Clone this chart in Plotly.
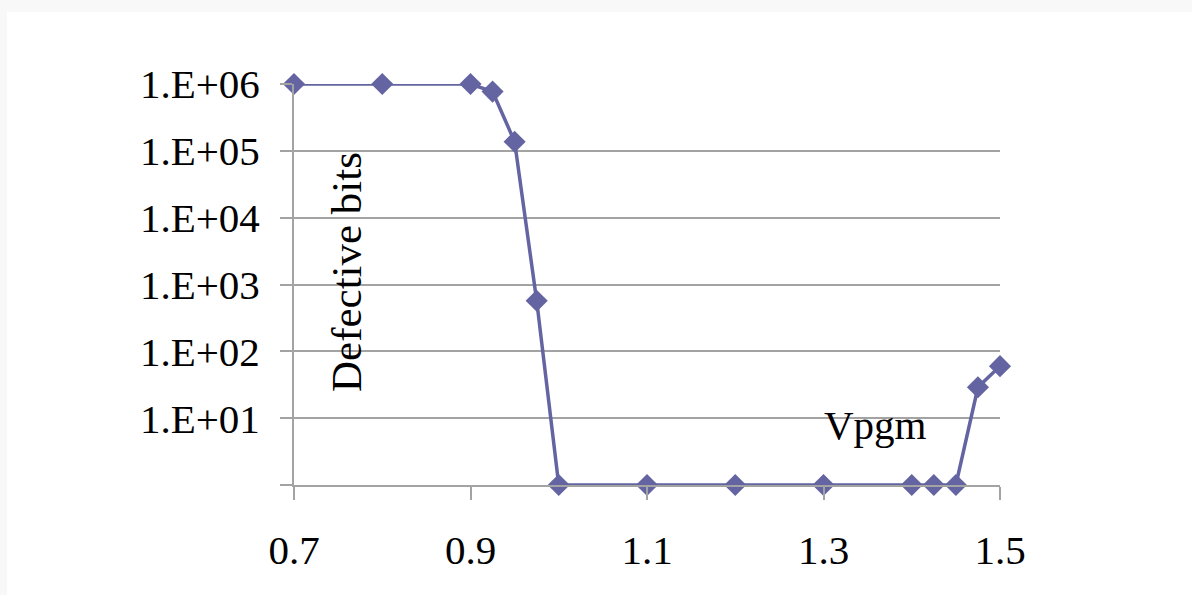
import plotly.graph_objects as go

vpgm = [0.7, 0.8, 0.9, 0.925, 0.95, 0.975, 1.0, 1.1, 1.2, 1.3, 1.4, 1.425, 1.45, 1.475, 1.5]
defective_bits = [1e6, 1e6, 1e6, 7.7e5, 1.37e5, 570, 1, 1, 1, 1, 1, 1, 1, 29, 60]

y_tickvals = [1, 10, 100, 1000, 10000, 100000, 1000000]
y_ticktext = ["", "1.E+01", "1.E+02", "1.E+03", "1.E+04", "1.E+05", "1.E+06"]
x_tickvals = [0.7, 0.9, 1.1, 1.3, 1.5]
x_ticktext = ["0.7", "0.9", "1.1", "1.3", "1.5"]

OFF = 8  # page offset of the figure
W, H = 1192, 595
L, T = 294 - OFF, 84 - OFF
pw, ph = 706, 401
R, B = W - L - pw, H - T - ph

def px_x(p):
    return (p - OFF - L) / pw

def px_y(p):
    return (H - B - (p - OFF)) / ph

line_color = "#6464a2"
grid_color = "#a3a3a3"
font_family = "Liberation Serif, Times New Roman, serif"

fig = go.Figure()
fig.add_trace(go.Scatter(
    x=vpgm, y=defective_bits, mode="lines+markers",
    line=dict(color=line_color, width=3.5),
    marker=dict(symbol="diamond", size=17, color=line_color),
    cliponaxis=False, showlegend=False,
))

fig.update_layout(
    width=W, height=H,
    margin=dict(l=L, r=R, t=T, b=B, pad=0),
    paper_bgcolor="#f8f8f8",
    plot_bgcolor="white",
    font=dict(family=font_family, size=40, color="black"),
    shapes=[dict(type="rect", xref="paper", yref="paper",
                 x0=px_x(7), x1=px_x(W + 30), y0=px_y(H + 30), y1=px_y(12),
                 fillcolor="white", line=dict(width=0), layer="below")],
    annotations=[
        dict(text="Defective bits", xref="paper", yref="paper",
             x=px_x(346), y=px_y(272), textangle=-90, showarrow=False,
             font=dict(family=font_family, size=43, color="black"),
             xanchor="center", yanchor="middle"),
        dict(text="Vpgm", xref="paper", yref="paper",
             x=px_x(875), y=px_y(425), showarrow=False,
             font=dict(family=font_family, size=41, color="black"),
             xanchor="center", yanchor="middle"),
    ],
)

fig.update_xaxes(
    range=[0.7, 1.5], tickvals=x_tickvals, ticktext=x_ticktext,
    showgrid=False, zeroline=False,
    showline=True, linecolor=grid_color, linewidth=2,
    ticks="outside", ticklen=13, tickwidth=2, tickcolor=grid_color,
    ticklabelstandoff=15, tickfont=dict(size=41),
)
fig.update_yaxes(
    type="log", range=[0, 6], tickvals=y_tickvals, ticktext=y_ticktext,
    showgrid=True, gridcolor=grid_color, gridwidth=2, zeroline=False,
    showline=True, linecolor=grid_color, linewidth=2,
    ticks="outside", ticklen=12, tickwidth=2, tickcolor=grid_color,
    ticklabelstandoff=12, tickfont=dict(size=41),
)

fig.write_html(
    "out.html",
    post_script=(
        "document.body.style.background='linear-gradient(to bottom, #f8f8f8 12px, transparent 12px), "
        "linear-gradient(to right, #f8f8f8 7px, #ffffff 7px)';"
    ),
)
